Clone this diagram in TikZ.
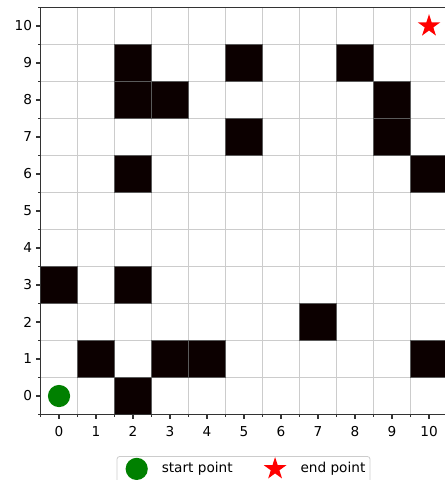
\documentclass[tikz,border=0pt]{standalone}
\usepackage{fontspec}
\setmainfont{DejaVu Sans}
\usetikzlibrary{shapes.geometric}
\definecolor{gridgray}{RGB}{204,204,204}
\definecolor{wallfill}{RGB}{12,0,0}
\definecolor{walledge}{RGB}{90,90,90}
\definecolor{startgreen}{RGB}{0,128,0}
\tikzset{
  wall/.style={fill=wallfill, draw=walledge, line width=0.6pt},
  gridline/.style={draw=gridgray, line width=1.1pt},
  spine/.style={draw=black!80, line width=0.8pt},
  ticklabel/.style={font=\fontsize{10.5}{12}\selectfont, inner sep=0pt},
  startmark/.style={circle, fill=startgreen, inner sep=0pt, minimum size=0.6cm},
  goalmark/.style={star, star points=5, star point ratio=2.618, fill=red, inner sep=0pt, minimum size=0.64cm}
}
\begin{document}
\begin{tikzpicture}
    \useasboundingbox (-1.595,-2.27) rectangle (10.405,10.703);
    % grid between the cells
    \foreach \k in {0.5,1.5,...,9.5} {
        \draw[gridline] (\k,-0.5) -- (\k,10.5);
        \draw[gridline] (-0.5,\k) -- (10.5,\k);
    }
    % obstacles
    \foreach \x/\y in {2/9,5/9,8/9,2/8,3/8,9/8,5/7,9/7,2/6,10/6,0/3,2/3,7/2,1/1,3/1,4/1,10/1,2/0}
        \draw[wall] (\x-0.5,\y-0.5) rectangle +(1,1);
    % axes
    \draw[spine] (-0.5,-0.5) rectangle (10.5,10.5);
    \foreach \i in {0,...,10} {
        \draw[spine] (\i,-0.5) -- +(0,-0.13);
        \draw[spine] (-0.5,\i) -- +(-0.13,0);
        \node[ticklabel] (xlab\i) at (\i,-0.97) {\i};
        \node[ticklabel, anchor=east] (ylab\i) at (-0.72,\i) {\i};
    }
    \foreach \k in {-0.5,0.5,...,10.5} {
        \draw[spine, line width=0.6pt] (\k,-0.5) -- +(0,-0.07);
        \draw[spine, line width=0.6pt] (-0.5,\k) -- +(-0.07,0);
    }
    % start and end
    \node[startmark] (start) at (0,0) {};
    \node[goalmark] (goal) at (10,10) {};
    % legend
    \draw[draw=gridgray, fill=white, rounded corners=2pt, line width=0.6pt] (1.568,-2.45) rectangle (8.405,-1.635);
    \node[startmark] (keystart) at (2.10,-1.97) {};
    \node[ticklabel, anchor=west] (keystarttext) at (2.77,-1.97) {start point};
    \node[goalmark] (keygoal) at (5.84,-1.97) {};
    \node[ticklabel, anchor=west] (keygoaltext) at (6.52,-1.97) {end point};
\end{tikzpicture}
\end{document}
